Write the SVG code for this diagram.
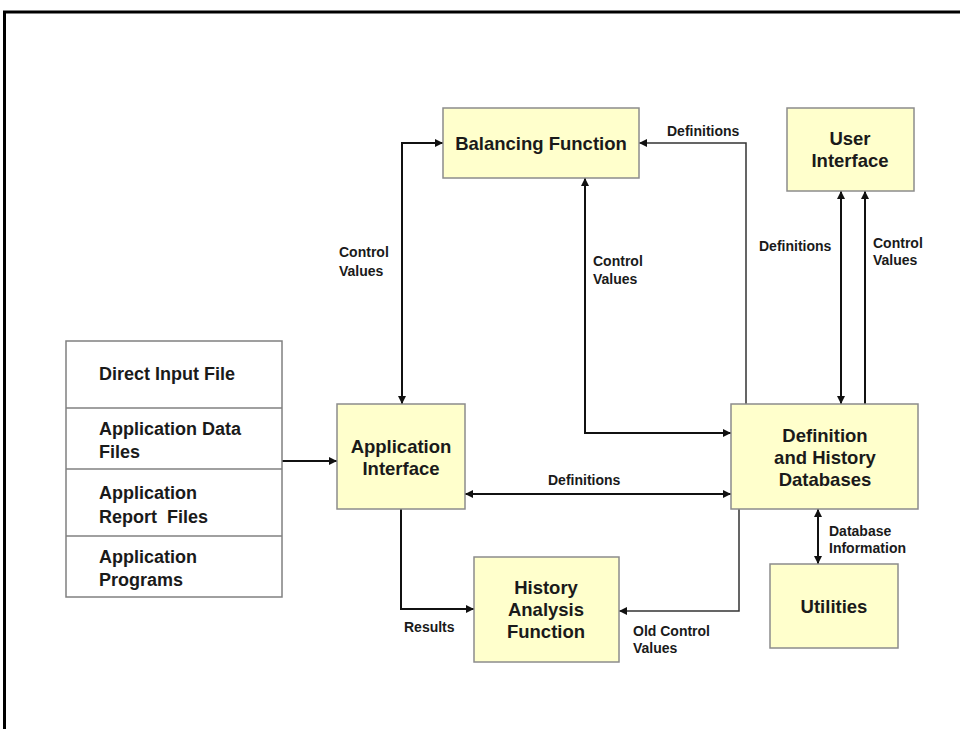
<svg xmlns="http://www.w3.org/2000/svg" width="960" height="729" viewBox="0 0 960 729">
<style>
.box{fill:#FFFFCC;stroke:#8c8c8c;stroke-width:1.5}
.src{fill:#ffffff;stroke:#808080;stroke-width:1.5}
.t{font-family:"Liberation Sans",Arial,sans-serif;font-weight:bold;font-size:18.5px;fill:#1a1a1a;text-anchor:middle}
.ts{font-family:"Liberation Sans",Arial,sans-serif;font-weight:bold;font-size:18px;fill:#1a1a1a}
.l{font-family:"Liberation Sans",Arial,sans-serif;font-weight:bold;font-size:14px;fill:#1a1a1a}
.c{fill:none;stroke:#111;stroke-width:2}
.thin{fill:none;stroke:#333;stroke-width:1.5}
</style>
<defs>
<marker id="ah" viewBox="0 0 10 10" refX="10" refY="5" markerWidth="9" markerHeight="8" markerUnits="userSpaceOnUse" orient="auto-start-reverse">
<path d="M0,0 L10,5 L0,10 z" fill="#111"/>
</marker>
</defs>
<rect x="0" y="0" width="960" height="729" fill="#ffffff"/>
<rect x="4.5" y="12" width="1000" height="1000" fill="none" stroke="#000" stroke-width="3"/>

<g id="connectors">
<path class="c" d="M282,461 H337" marker-end="url(#ah)"/>
<path class="c" d="M443,143 H402 V404" marker-start="url(#ah)" marker-end="url(#ah)"/>
<path class="thin" d="M746,404 V143 H639" marker-end="url(#ah)"/>
<path class="c" d="M585,178 V433 H731" marker-start="url(#ah)" marker-end="url(#ah)"/>
<path class="c" d="M841,191 V404" marker-start="url(#ah)" marker-end="url(#ah)"/>
<path class="c" d="M865,404 V191" marker-end="url(#ah)"/>
<path class="c" d="M465,494 H731" marker-start="url(#ah)" marker-end="url(#ah)"/>
<path class="c" d="M401,509 V609 H474" marker-end="url(#ah)"/>
<path class="thin" d="M739,509 V611 H619" marker-end="url(#ah)"/>
<path class="c" d="M818,509 V564" marker-start="url(#ah)" marker-end="url(#ah)"/>
</g>

<g id="labels">
<text class="l" x="667" y="136">Definitions</text>
<text class="l" x="339" y="257">Control</text>
<text class="l" x="339" y="276">Values</text>
<text class="l" x="593" y="266">Control</text>
<text class="l" x="593" y="284">Values</text>
<text class="l" x="759" y="251">Definitions</text>
<text class="l" x="873" y="248">Control</text>
<text class="l" x="873" y="265">Values</text>
<text class="l" x="548" y="485">Definitions</text>
<text class="l" x="404" y="632">Results</text>
<text class="l" x="633" y="636">Old Control</text>
<text class="l" x="633" y="653">Values</text>
<text class="l" x="829" y="536">Database</text>
<text class="l" x="829" y="553">Information</text>
</g>

<g id="sources">
<rect class="src" x="66" y="341" width="216" height="256"/>
<line x1="66" y1="408" x2="282" y2="408" stroke="#808080" stroke-width="1.5"/>
<line x1="66" y1="469" x2="282" y2="469" stroke="#808080" stroke-width="1.5"/>
<line x1="66" y1="536" x2="282" y2="536" stroke="#808080" stroke-width="1.5"/>
<text class="ts" x="99" y="380">Direct Input File</text>
<text class="ts" x="99" y="435">Application Data</text>
<text class="ts" x="99" y="458">Files</text>
<text class="ts" x="99" y="499">Application</text>
<text class="ts" x="99" y="523" xml:space="preserve">Report  Files</text>
<text class="ts" x="99" y="563">Application</text>
<text class="ts" x="99" y="586">Programs</text>
</g>

<g id="balancing">
<rect class="box" x="443" y="108" width="196" height="70"/>
<text class="t" x="541" y="150">Balancing Function</text>
</g>

<g id="user-interface">
<rect class="box" x="787" y="108" width="127" height="83"/>
<text class="t" x="850" y="145">User</text>
<text class="t" x="850" y="167">Interface</text>
</g>

<g id="app-interface">
<rect class="box" x="337" y="404" width="128" height="105"/>
<text class="t" x="401" y="453">Application</text>
<text class="t" x="401" y="475">Interface</text>
</g>

<g id="databases">
<rect class="box" x="731" y="404" width="187" height="105"/>
<text class="t" x="825" y="442">Definition</text>
<text class="t" x="825" y="464">and History</text>
<text class="t" x="825" y="486">Databases</text>
</g>

<g id="history">
<rect class="box" x="474" y="557" width="145" height="105"/>
<text class="t" x="546" y="594">History</text>
<text class="t" x="546" y="616">Analysis</text>
<text class="t" x="546" y="638">Function</text>
</g>

<g id="utilities">
<rect class="box" x="770" y="564" width="128" height="84"/>
<text class="t" x="834" y="613">Utilities</text>
</g>
</svg>
